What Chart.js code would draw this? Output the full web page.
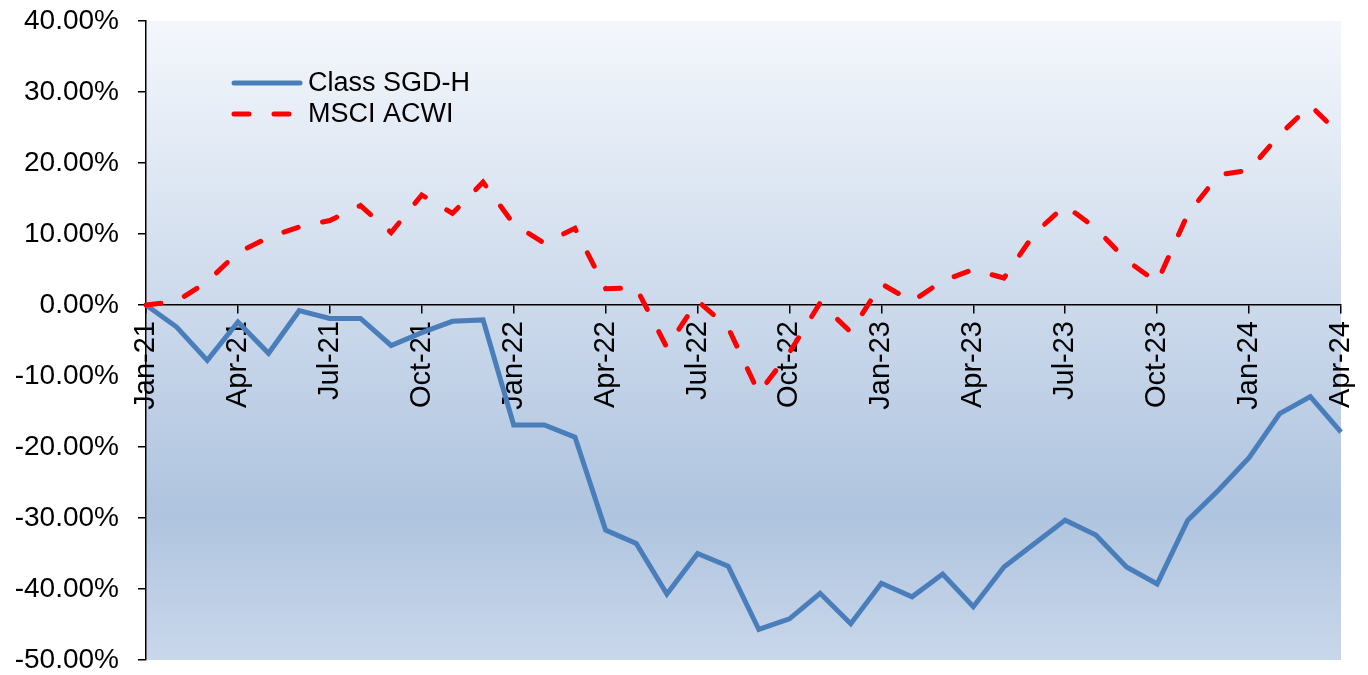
<!DOCTYPE html>
<html lang="en">
<head>
    <meta charset="UTF-8">
    <title>Class SGD-H vs MSCI ACWI</title>
    <script src="https://cdn.jsdelivr.net/npm/chart.js"></script>
    <style>
        body {
            margin: 0;
            background: #ffffff;
        }
        #wrap {
            width: 1368px;
            height: 675px;
        }
    </style>
</head>
<body>
<div id="wrap">
    <canvas id="perfChart" width="1368" height="675"></canvas>
</div>
<script>
    // monthly points, Jan-21 .. Apr-24
    const months = [
        'Jan-21', 'Feb-21', 'Mar-21', 'Apr-21', 'May-21', 'Jun-21', 'Jul-21', 'Aug-21', 'Sep-21', 'Oct-21', 'Nov-21', 'Dec-21',
        'Jan-22', 'Feb-22', 'Mar-22', 'Apr-22', 'May-22', 'Jun-22', 'Jul-22', 'Aug-22', 'Sep-22', 'Oct-22', 'Nov-22', 'Dec-22',
        'Jan-23', 'Feb-23', 'Mar-23', 'Apr-23', 'May-23', 'Jun-23', 'Jul-23', 'Aug-23', 'Sep-23', 'Oct-23', 'Nov-23', 'Dec-23',
        'Jan-24', 'Feb-24', 'Mar-24', 'Apr-24'
    ];

    // cumulative returns in %
    const classSgdH = [
        0, -3.1, -7.8, -2.4, -6.8, -0.8, -1.9, -1.9, -5.7, -3.9, -2.3, -2.1,
        -16.9, -16.9, -18.6, -31.7, -33.6, -40.7, -35.0, -36.8, -45.7, -44.2, -40.6, -44.9,
        -39.2, -41.1, -37.9, -42.5, -36.9, -33.6, -30.3, -32.4, -36.9, -39.3, -30.3, -26.1,
        -21.5, -15.3, -12.9, -17.9
    ];
    const msciAcwi = [
        0, 0.5, 3.3, 7.4, 9.5, 11.0, 11.9, 14.0, 10.2, 15.5, 12.9, 17.3,
        11.4, 8.7, 10.8, 2.3, 2.4, -6.0, 0.6, -3.2, -12.4, -6.7, 0.3, -3.8,
        3.0, 0.5, 3.4, 5.0, 3.8, 10.1, 14.0, 10.8, 6.3, 3.2, 12.8, 18.3,
        19.0, 24.0, 28.1, 23.9
    ];

    const seriesNames = ['Class SGD-H', 'MSCI ACWI'];
    const yTicks = [40, 30, 20, 10, 0, -10, -20, -30, -40, -50];

    const FONT = '"Liberation Sans", Arial, sans-serif';
    const BLUE = '#4a7ebb';
    const RED = '#ff0000';
    const DASH = [15, 25];

    // gradient fill behind the plot area
    const plotBackground = {
        id: 'plotBackground',
        beforeDraw(chart) {
            const { ctx, chartArea: a } = chart;
            const g = ctx.createLinearGradient(0, a.top, 0, a.bottom);
            g.addColorStop(0, '#f4f7fc');
            g.addColorStop(0.77, '#afc4df');
            g.addColorStop(1, '#c9d7ea');
            ctx.save();
            ctx.fillStyle = g;
            ctx.fillRect(a.left, a.top, a.right - a.left, a.bottom - a.top);
            ctx.restore();
        }
    };

    // legend sits inside the plot, top left
    const insideLegend = {
        id: 'insideLegend',
        afterDraw(chart) {
            const { ctx, chartArea: a } = chart;
            const rows = [
                { text: seriesNames[0], color: BLUE, dash: [] },
                { text: seriesNames[1], color: RED, dash: DASH }
            ];
            ctx.save();
            rows.forEach((r, i) => {
                const y = a.top + 62 + i * 31;
                ctx.beginPath();
                ctx.setLineDash(r.dash);
                ctx.lineCap = 'round';
                ctx.lineWidth = 5;
                ctx.strokeStyle = r.color;
                ctx.moveTo(a.left + 88, y);
                ctx.lineTo(a.left + 154, y);
                ctx.stroke();
                ctx.setLineDash([]);
                ctx.fillStyle = '#000';
                ctx.font = '27px ' + FONT;
                ctx.textBaseline = 'middle';
                ctx.fillText(r.text, a.left + 162, y + 1);
            });
            ctx.restore();
        }
    };

    const ctx = document.getElementById('perfChart').getContext('2d');
    new Chart(ctx, {
        type: 'line',
        data: {
            labels: months,
            datasets: [
                {
                    label: seriesNames[1],
                    data: msciAcwi,
                    borderColor: RED,
                    borderWidth: 5,
                    borderDash: DASH,
                    borderCapStyle: 'round',
                    pointRadius: 0,
                    tension: 0,
                    fill: false,
                    order: 0
                },
                {
                    label: seriesNames[0],
                    data: classSgdH,
                    borderColor: BLUE,
                    borderWidth: 5,
                    pointRadius: 0,
                    tension: 0,
                    fill: false,
                    order: 1
                }
            ]
        },
        options: {
            responsive: false,
            animation: false,
            layout: {
                padding: { top: 21, right: 27, bottom: 15, left: 0 }
            },
            plugins: {
                legend: { display: false },
                tooltip: { enabled: false }
            },
            scales: {
                x: {
                    position: { y: 0 },
                    offset: false,
                    afterFit(scale) {
                        scale.paddingLeft = 0;
                        scale.paddingRight = 0;
                    },
                    border: { display: true, color: '#000', width: 1.5 },
                    grid: {
                        drawOnChartArea: false,
                        drawTicks: true,
                        tickLength: 8,
                        lineWidth: 1.5,
                        color: (c) => (c.index % 3 === 0 ? '#000' : 'rgba(0,0,0,0)')
                    },
                    ticks: {
                        autoSkip: false,
                        minRotation: 90,
                        maxRotation: 90,
                        padding: 8,
                        color: '#000',
                        font: { family: FONT, size: 29 },
                        callback: function (v, i) {
                            return i % 3 === 0 ? months[i] : '';
                        }
                    }
                },
                y: {
                    min: -50,
                    max: 40,
                    afterFit(scale) {
                        scale.width = 146;
                        scale.paddingTop = 0;
                        scale.paddingBottom = 0;
                    },
                    afterBuildTicks(scale) {
                        scale.ticks = yTicks.map(v => ({ value: v }));
                    },
                    border: { display: true, color: '#000', width: 1.5 },
                    grid: {
                        drawOnChartArea: false,
                        drawTicks: true,
                        tickLength: 8,
                        lineWidth: 1.5,
                        color: '#000'
                    },
                    ticks: {
                        padding: 19,
                        color: '#000',
                        font: { family: FONT, size: 28 },
                        callback: v => v.toFixed(2) + '%'
                    }
                }
            }
        },
        plugins: [plotBackground, insideLegend]
    });
</script>
</body>
</html>
